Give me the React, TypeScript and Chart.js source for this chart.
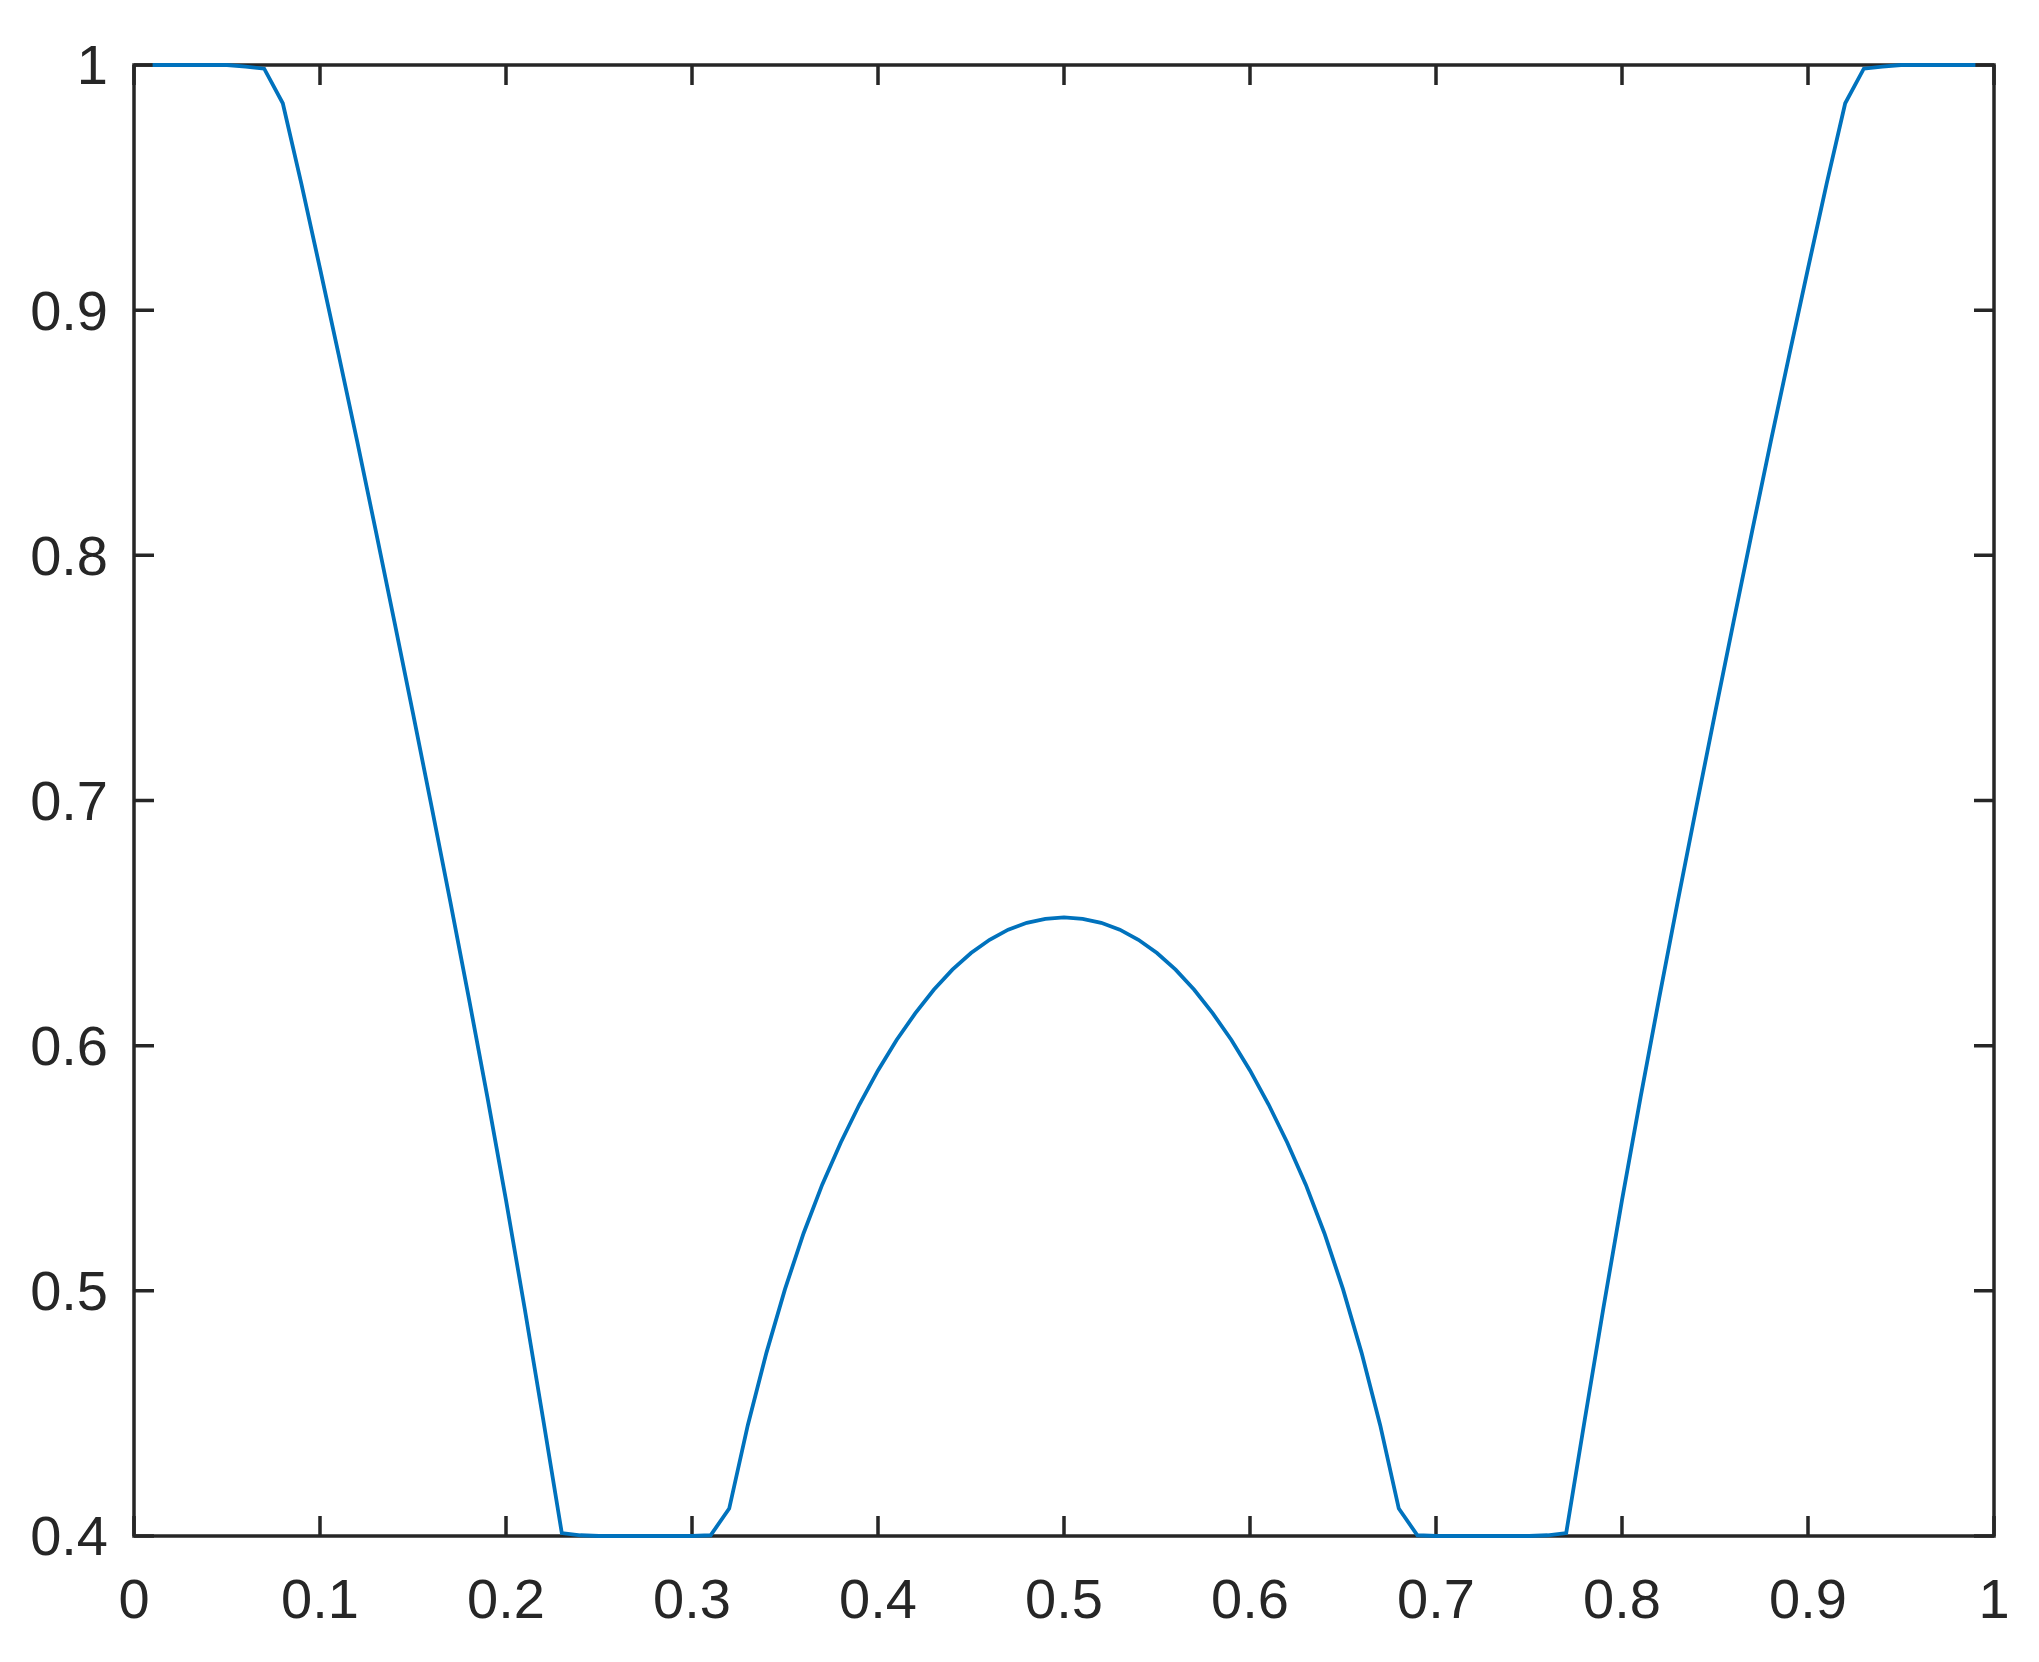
import React, { useEffect, useRef } from 'react';
import { Chart, registerables } from 'chart.js';

Chart.register(...registerables);

const xValues = [
  0.01, 0.02, 0.03, 0.04, 0.05, 0.06, 0.07, 0.08, 0.09, 0.10,
  0.11, 0.12, 0.13, 0.14, 0.15, 0.16, 0.17, 0.18, 0.19, 0.20,
  0.21, 0.22, 0.23, 0.24, 0.25, 0.26, 0.27, 0.28, 0.29, 0.30,
  0.31, 0.32, 0.33, 0.34, 0.35, 0.36, 0.37, 0.38, 0.39, 0.40,
  0.41, 0.42, 0.43, 0.44, 0.45, 0.46, 0.47, 0.48, 0.49, 0.50,
  0.51, 0.52, 0.53, 0.54, 0.55, 0.56, 0.57, 0.58, 0.59, 0.60,
  0.61, 0.62, 0.63, 0.64, 0.65, 0.66, 0.67, 0.68, 0.69, 0.70,
  0.71, 0.72, 0.73, 0.74, 0.75, 0.76, 0.77, 0.78, 0.79, 0.80,
  0.81, 0.82, 0.83, 0.84, 0.85, 0.86, 0.87, 0.88, 0.89, 0.90,
  0.91, 0.92, 0.93, 0.94, 0.95, 0.96, 0.97, 0.98, 0.99,
];

const yValues = [
  1.0, 1.0, 1.0, 1.0, 1.0, 0.9993, 0.9985, 0.9844, 0.9515, 0.9170,
  0.8820, 0.8465, 0.8100, 0.7730, 0.7355, 0.6975, 0.6590, 0.6195, 0.5790, 0.5370,
  0.4930, 0.4475, 0.4012, 0.4003, 0.4, 0.4, 0.4, 0.4, 0.4, 0.4,
  0.4003, 0.4112, 0.4452, 0.4747, 0.5007, 0.5235, 0.5433, 0.5605, 0.5760, 0.5899,
  0.6023, 0.6132, 0.6228, 0.6310, 0.6378, 0.6432, 0.6473, 0.6501, 0.6517, 0.6523,
  0.6517, 0.6501, 0.6473, 0.6432, 0.6378, 0.6310, 0.6228, 0.6132, 0.6023, 0.5899,
  0.5760, 0.5605, 0.5433, 0.5235, 0.5007, 0.4747, 0.4452, 0.4112, 0.4003, 0.4,
  0.4, 0.4, 0.4, 0.4, 0.4, 0.4003, 0.4012, 0.4475, 0.4930, 0.5370,
  0.5790, 0.6195, 0.6590, 0.6975, 0.7355, 0.7730, 0.8100, 0.8465, 0.8820, 0.9170,
  0.9515, 0.9844, 0.9985, 0.9993, 1.0, 1.0, 1.0, 1.0, 1.0,
];

const xTickValues = [0, 0.1, 0.2, 0.3, 0.4, 0.5, 0.6, 0.7, 0.8, 0.9, 1];
const yTickValues = [0.4, 0.5, 0.6, 0.7, 0.8, 0.9, 1];

const AXIS_COLOR = '#262626';
const LINE_COLOR = '#0072BD';
const FONT_FAMILY = '"Liberation Sans", Arial, Helvetica, sans-serif';

const boxPlugin = {
  id: 'matlabBox',
  beforeDatasetsDraw(chart: any) {
    const { ctx, chartArea, scales } = chart;
    const { left, right, top, bottom } = chartArea;
    const xs = scales.x;
    const ys = scales.y;
    const L = 20;
    ctx.save();
    ctx.strokeStyle = AXIS_COLOR;
    ctx.lineWidth = 3.5;
    ctx.lineCap = 'butt';
    ctx.beginPath();
    xs.ticks.forEach((t: any) => {
      const px = xs.getPixelForValue(t.value);
      ctx.moveTo(px, bottom);
      ctx.lineTo(px, bottom - L);
      ctx.moveTo(px, top);
      ctx.lineTo(px, top + L);
    });
    ys.ticks.forEach((t: any) => {
      const py = ys.getPixelForValue(t.value);
      ctx.moveTo(left, py);
      ctx.lineTo(left + L, py);
      ctx.moveTo(right, py);
      ctx.lineTo(right - L, py);
    });
    ctx.stroke();
    ctx.lineJoin = 'miter';
    ctx.strokeRect(left, top, right - left, bottom - top);
    ctx.restore();
  },
};

export default function App() {
  const canvasRef = useRef<HTMLCanvasElement | null>(null);

  useEffect(() => {
    document.body.style.margin = '0';
    const canvas = canvasRef.current;
    if (!canvas) return;
    const points = xValues.map((x, i) => ({ x, y: yValues[i] }));
    const tickFont = { family: FONT_FAMILY, size: 56 };
    const chart = new Chart(canvas, {
      type: 'line',
      data: {
        datasets: [
          {
            data: points,
            borderColor: LINE_COLOR,
            borderWidth: 3.8,
            pointRadius: 0,
            tension: 0,
            fill: false,
            clip: false as any,
          },
        ],
      },
      options: {
        animation: false,
        responsive: false,
        maintainAspectRatio: false,
        layout: { padding: { left: 0, top: 65, right: 45, bottom: 0 } },
        plugins: { legend: { display: false }, tooltip: { enabled: false } },
        scales: {
          x: {
            type: 'linear',
            min: 0,
            max: 1,
            grid: { display: false, drawTicks: false },
            border: { display: false },
            afterBuildTicks: (scale: any) => {
              scale.ticks = xTickValues.map((v) => ({ value: v }));
            },
            afterFit: (scale: any) => {
              scale.height = 126;
              scale.paddingLeft = 0;
              scale.paddingRight = 0;
            },
            ticks: {
              color: AXIS_COLOR,
              font: tickFont,
              padding: 33,
              maxRotation: 0,
              autoSkip: false,
              callback: (v: any) => String(v),
            },
          },
          y: {
            type: 'linear',
            min: 0.4,
            max: 1,
            grid: { display: false, drawTicks: false },
            border: { display: false },
            afterBuildTicks: (scale: any) => {
              scale.ticks = yTickValues.map((v) => ({ value: v }));
            },
            afterFit: (scale: any) => {
              scale.width = 134;
              scale.paddingTop = 0;
              scale.paddingBottom = 0;
            },
            ticks: {
              color: AXIS_COLOR,
              font: tickFont,
              padding: 26,
              labelOffset: 4,
              autoSkip: false,
              callback: (v: any) => String(v),
            },
          },
        },
      },
      plugins: [boxPlugin],
    });
    return () => chart.destroy();
  }, []);

  return (
    <div style={{ width: 2039, height: 1662, background: '#ffffff' }}>
      <canvas ref={canvasRef} width={2039} height={1662} style={{ display: 'block' }} />
    </div>
  );
}
